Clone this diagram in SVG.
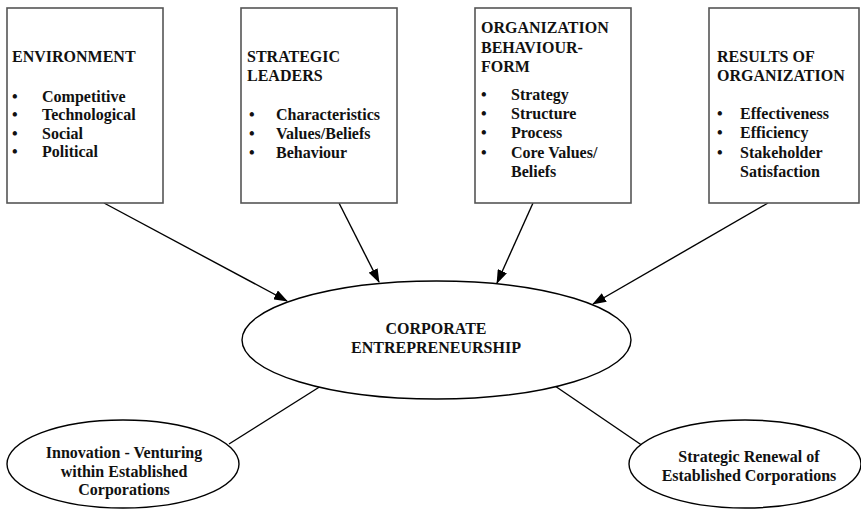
<svg xmlns="http://www.w3.org/2000/svg" width="861" height="511" viewBox="0 0 861 511">
<style>
.box{fill:#fff;stroke:#555;stroke-width:1.6}
.ell{fill:#fff;stroke:#000;stroke-width:1.4}
.t{font-family:"Liberation Serif","Times New Roman",serif;font-weight:bold;font-size:16px;fill:#111}
.c{text-anchor:middle}
.con{stroke:#000;stroke-width:1.4;fill:none}
</style>
<defs>
<marker id="ah" markerWidth="14" markerHeight="10" refX="13" refY="5" orient="auto" markerUnits="userSpaceOnUse">
<path d="M0,0 L14,5 L0,10 Z" fill="#000"/>
</marker>
</defs>
<rect width="861" height="511" fill="#fff"/>
<g id="connectors">
<line class="con" x1="104" y1="203" x2="287" y2="301" marker-end="url(#ah)"/>
<line class="con" x1="339" y1="203" x2="379" y2="282" marker-end="url(#ah)"/>
<line class="con" x1="533" y1="203" x2="497" y2="283" marker-end="url(#ah)"/>
<line class="con" x1="768" y1="203" x2="593" y2="304" marker-end="url(#ah)"/>
<line class="con" x1="321" y1="386" x2="229" y2="444"/>
<line class="con" x1="555" y1="386" x2="643" y2="446"/>
</g>
<g id="environment">
<rect class="box" x="7" y="8" width="156" height="195"/>
<text class="t" x="12" y="62">ENVIRONMENT</text>
<g class="t"><text x="12" y="102">•</text><text x="12" y="120">•</text><text x="12" y="139">•</text><text x="12" y="157">•</text></g>
<text class="t" x="42" y="102">Competitive</text>
<text class="t" x="42" y="120">Technological</text>
<text class="t" x="42" y="139">Social</text>
<text class="t" x="42" y="157">Political</text>
</g>
<g id="leaders">
<rect class="box" x="241" y="8" width="156" height="195"/>
<text class="t" x="247" y="62">STRATEGIC</text>
<text class="t" x="247" y="81">LEADERS</text>
<g class="t"><text x="249" y="120">•</text><text x="249" y="139">•</text><text x="249" y="158">•</text></g>
<text class="t" x="276" y="120">Characteristics</text>
<text class="t" x="276" y="139">Values/Beliefs</text>
<text class="t" x="276" y="158">Behaviour</text>
</g>
<g id="orgbehaviour">
<rect class="box" x="475" y="8" width="156" height="195"/>
<text class="t" x="481" y="33">ORGANIZATION</text>
<text class="t" x="481" y="53">BEHAVIOUR-</text>
<text class="t" x="481" y="72">FORM</text>
<g class="t"><text x="481" y="100">•</text><text x="481" y="119">•</text><text x="481" y="138">•</text><text x="481" y="158">•</text></g>
<text class="t" x="511" y="100">Strategy</text>
<text class="t" x="511" y="119">Structure</text>
<text class="t" x="511" y="138">Process</text>
<text class="t" x="511" y="158">Core Values/</text>
<text class="t" x="511" y="177">Beliefs</text>
</g>
<g id="results">
<rect class="box" x="709" y="8" width="150" height="195"/>
<text class="t" x="717" y="62">RESULTS OF</text>
<text class="t" x="717" y="81">ORGANIZATION</text>
<g class="t"><text x="717" y="119">•</text><text x="717" y="138">•</text><text x="717" y="158">•</text></g>
<text class="t" x="740" y="119">Effectiveness</text>
<text class="t" x="740" y="138">Efficiency</text>
<text class="t" x="740" y="158">Stakeholder</text>
<text class="t" x="740" y="177">Satisfaction</text>
</g>
<g id="corporate">
<ellipse class="ell" cx="436.5" cy="340" rx="194.5" ry="59"/>
<text class="t c" x="436" y="334">CORPORATE</text>
<text class="t c" x="436" y="353">ENTREPRENEURSHIP</text>
</g>
<g id="innovation">
<ellipse class="ell" cx="123" cy="464" rx="116" ry="44"/>
<text class="t c" x="124" y="458">Innovation - Venturing</text>
<text class="t c" x="124" y="477">within Established</text>
<text class="t c" x="124" y="495">Corporations</text>
</g>
<g id="renewal">
<ellipse class="ell" cx="745" cy="464" rx="116" ry="44"/>
<text class="t c" x="749" y="462">Strategic Renewal of</text>
<text class="t c" x="749" y="481">Established Corporations</text>
</g>
</svg>
